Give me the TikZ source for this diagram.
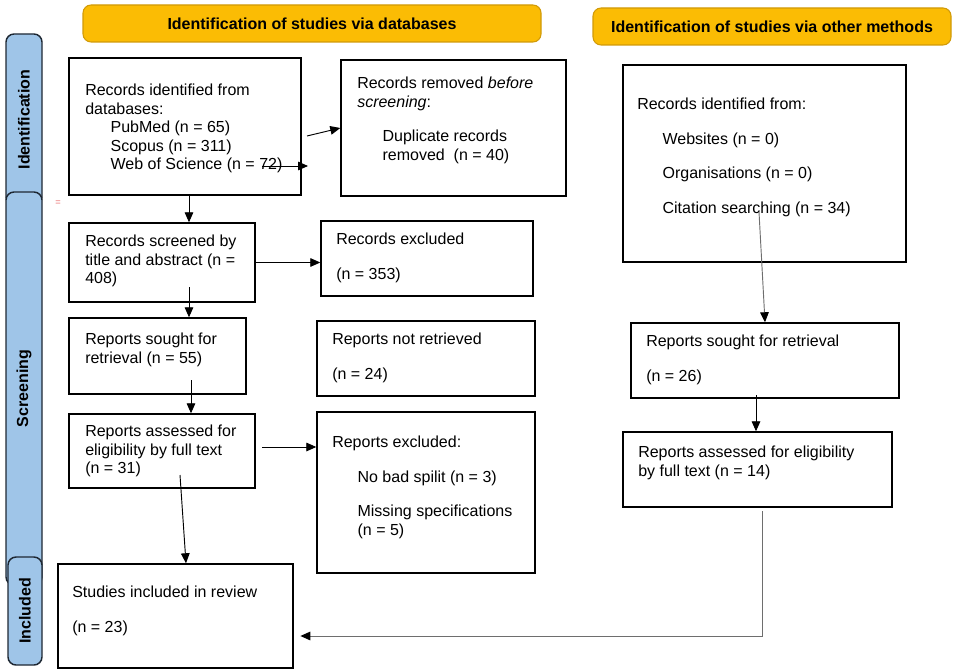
\documentclass[tikz,border=0pt]{standalone}
\usepackage{fontspec}
\setmainfont{Liberation Sans}
\usepackage{xcolor}
\usetikzlibrary{arrows.meta,fit}
\definecolor{band}{HTML}{FBBC04}
\definecolor{bandline}{HTML}{D19A08}
\definecolor{phase}{HTML}{9FC5E8}
\definecolor{phaseline}{HTML}{1E2833}
\definecolor{link}{HTML}{6E6E6E}
\definecolor{stray}{HTML}{E86A6A}
\tikzset{
  box/.style={draw=black, line width=1.1pt, inner sep=0pt},
  txt/.style={anchor=north west, inner sep=0pt, align=left},
  banner/.style={draw=bandline, fill=band, rounded corners=6pt, line width=0.8pt, inner sep=0pt},
  bannertext/.style={font=\fontsize{12}{13.8}\selectfont\bfseries},
  phasebox/.style={draw=phaseline, fill=phase, rounded corners=6pt, line width=1.1pt, inner sep=0pt},
  phaselabel/.style={rotate=90, font=\fontsize{12}{13.8}\selectfont\bfseries},
  flow/.style={-{Triangle[length=7.5pt,width=6.5pt]}, draw=black, line width=0.7pt},
  thinflow/.style={-{Triangle[length=7.5pt,width=6.5pt,color=black]}, draw=link, line width=0.7pt}
}
\newcommand{\ind}{\hspace*{19pt}}
\begin{document}
\begin{tikzpicture}[x=0.75pt, y=-0.75pt, font=\fontsize{12}{13.8}\selectfont]
  \useasboundingbox (0,0) rectangle (962,670);

  % phase bars on the left
  \node[phasebox, fit={(6,34) (42,205)}] (identphase) {};
  \node[phasebox, fit={(6,192) (42,585)}] (screenphase) {};
  \node[phasebox, fit={(8,557) (42,665)}] (inclphase) {};
  \node[phaselabel] (identlabel) at (identphase.center) {Identification};
  \node[phaselabel] (screenlabel) at (screenphase.center) {Screening};
  \node[phaselabel] (incllabel) at (inclphase.center) {Included};
  \node[font=\scriptsize, text=stray, inner sep=0pt] (stray) at (58,203) {=};

  % headers
  \node[banner, fit={(83,5) (541,42)}] (dbband) {};
  \node[bannertext] (dbtitle) at (dbband.center) {Identification of studies via databases};
  \node[banner, fit={(593,8) (951,45)}] (otherband) {};
  \node[bannertext] (othertitle) at (otherband.center) {Identification of studies via other methods};

  % databases column
  \node[box, fit={(69,58) (301,195)}] (recdb) {};
  \node[txt] (recdbtext) at (85,84) {Records identified from\\databases:\\\ind PubMed (n = 65)\\\ind Scopus (n = 311)\\\ind Web of Science (n = 72)};
  \node[box, fit={(341,60) (566,196)}] (removed) {};
  \node[txt] (removedtext) at (357,77) {Records removed \textit{before}\\\textit{screening}:\\[12pt]\ind Duplicate records\\\ind removed\ \ (n = 40)};

  \node[box, fit={(69,223) (255,302)}] (screened) {};
  \node[txt] (screenedtext) at (85,235) {Records screened by\\title and abstract (n =\\408)};
  \node[box, fit={(321,221) (533,296)}] (recexcl) {};
  \node[txt] (recexcltext) at (336,233) {Records excluded\\[12pt](n = 353)};

  \node[box, fit={(69,318) (246,394)}] (sought) {};
  \node[txt] (soughttext) at (85,333) {Reports sought for\\retrieval (n = 55)};
  \node[box, fit={(317,321) (535,396)}] (notret) {};
  \node[txt] (notrettext) at (332,333) {Reports not retrieved\\[12pt](n = 24)};

  \node[box, fit={(69,414) (255,488)}] (assessed) {};
  \node[txt] (assessedtext) at (85,425) {Reports assessed for\\eligibility by full text\\(n = 31)};
  \node[box, fit={(317,412) (535,573)}] (repexcl) {};
  \node[txt] (repexcltext) at (332,436) {Reports excluded:\\[12pt]\ind No bad spilit (n = 3)\\[12pt]\ind Missing specifications\\\ind (n = 5)};

  \node[box, fit={(58,564) (293,668)}] (included) {};
  \node[txt] (includedtext) at (72,586) {Studies included in review\\[12pt](n = 23)};

  % other methods column
  \node[box, fit={(623,65) (906,262)}] (otherrec) {};
  \node[txt] (otherrectext) at (637,98) {Records identified from:\\[12pt]\ind Websites (n = 0)\\[12pt]\ind Organisations (n = 0)\\[12pt]\ind Citation searching (n = 34)};
  \node[box, fit={(631,323) (899,398)}] (othersought) {};
  \node[txt] (othersoughttext) at (646,335) {Reports sought for retrieval\\[12pt](n = 26)};
  \node[box, fit={(623,432) (892,507)}] (otherassessed) {};
  \node[txt] (otherassessedtext) at (638,446) {Reports assessed for eligibility\\by full text (n = 14)};

  % connectors
  \coordinate (dbout) at (307,136);
  \coordinate (wosfrom) at (262,166);
  \coordinate (wosto) at (308,166);
  \coordinate (scrx) at (189,0);
  \coordinate (soughtfrom) at (189,287);
  \coordinate (assfrom) at (191,380);
  \coordinate (exclfrom) at (262,447);
  \coordinate (inclfrom) at (180,475);
  \coordinate (inclx) at (186,0);
  \coordinate (citefrom) at (759,212);
  \coordinate (citex) at (765,0);
  \coordinate (othfrom) at (756,395);
  \coordinate (mergefrom) at (762,511);
  \coordinate (mergey) at (0,636);

  \draw[flow] (dbout) -- (removed.west);
  \draw[flow] (wosfrom) -- (wosto);
  \draw[flow] (recdb.south -| scrx) -- (screened.north -| scrx);
  \draw[flow] (screened.east) -- (recexcl.west |- screened.east);
  \draw[flow] (soughtfrom) -- (soughtfrom |- sought.north);
  \draw[flow] (assfrom) -- (assfrom |- assessed.north);
  \draw[flow] (exclfrom) -- (repexcl.west |- exclfrom);
  \draw[flow] (inclfrom) -- (inclx |- included.north);
  \draw[thinflow] (citefrom) -- (citex |- othersought.north);
  \draw[flow] (othfrom) -- (othfrom |- otherassessed.north);
  \draw[thinflow] (mergefrom) |- ([xshift=5pt]included.east |- mergey);
\end{tikzpicture}
\end{document}
